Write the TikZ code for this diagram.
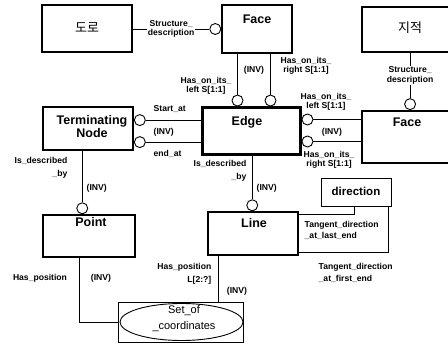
\documentclass[tikz,border=0pt]{standalone}
\usepackage{fontspec}
\setmainfont{Liberation Sans}
\newfontfamily\krfont{Noto Sans CJK KR}
\usetikzlibrary{calc,shapes.geometric}
\begin{document}
\begin{tikzpicture}[x=1pt,y=-1pt,
  box/.style={draw, line width=1.5pt, inner sep=0pt},
  ttl/.style={font=\bfseries\fontsize{12.5}{13}\selectfont, align=center, inner sep=0pt},
  krttl/.style={font=\krfont\fontsize{13}{14}\selectfont, inner sep=0pt},
  lab/.style={font=\bfseries\fontsize{8.6}{9.5}\selectfont, inner sep=0.5pt},
  circ/.style={circle, draw, fill=white, line width=0.9pt, minimum size=11pt, inner sep=0pt},
  conn/.style={line width=0.8pt},
]
\useasboundingbox (0,0) rectangle (448,345);
\clip (0,0) rectangle (448,345);
\fill[white] (0,0) rectangle (448,345);

% boxes
\node[box, line width=1.8pt, minimum width=90pt, minimum height=47pt] (doro) at (87,28.5) {};
\node[krttl] (doroT) at (87,28) {도로};
\node[box, minimum width=70pt, minimum height=48pt] (faceT) at (257,29) {};
\node[ttl] (faceTt) at (257,19) {Face};
\node[box, line width=1.8pt, minimum width=110pt, minimum height=45pt] (jij) at (417,29.5) {};
\node[krttl] (jijT) at (410,28) {지적};
\node[box, line width=1.8pt, minimum width=110pt, minimum height=52pt] (faceR) at (417,137) {};
\node[ttl] (faceRt) at (407,122) {Face};
\node[box, line width=3pt, minimum width=98pt, minimum height=47pt] (edge) at (251,131.5) {};
\node[ttl] (edgeT) at (247,122) {Edge};
\node[box, line width=1.8pt, minimum width=90pt, minimum height=43pt] (term) at (88,128.5) {};
\node[ttl] (termT) at (92,127) {Terminating\\Node};
\node[box, minimum width=92pt, minimum height=42pt] (point) at (89,236) {};
\node[ttl] (pointT) at (91,222) {Point};
\node[box, minimum width=90pt, minimum height=43pt] (line) at (253,233.5) {};
\node[ttl] (lineT) at (254,223) {Line};
\node[box, line width=0.9pt, minimum width=70pt, minimum height=28pt] (dir) at (356,192) {};
\node[ttl, font=\bfseries\fontsize{11.5}{13}\selectfont] (dirT) at (356,191) {direction};
\node[draw, line width=0.9pt, minimum width=125pt, minimum height=40pt, inner sep=0pt] (set) at (180.5,322) {};
\node[ellipse, draw, line width=0.9pt, minimum width=123pt, minimum height=37pt, inner sep=0pt] (setE) at (181.5,322) {};
\node[font=\fontsize{11}{16}\selectfont, align=center, inner sep=0pt] (setT) at (184,319) {Set\_of\\\_coordinates};

% Doro -> Face (top)
\node[circ, anchor=east] (cD) at (faceT.west) {};
\draw[conn] (doro.east |- cD.west) -- node[lab, fill=white, align=center] (lSD1) {Structure\_\\description} (cD.west);

% Face (top) -> Edge
\node[circ, anchor=south] (cEL) at ($(edge.north west)+(37,0)$) {};
\node[circ, anchor=south] (cER) at ($(edge.north west)+(70,0)$) {};
\draw[conn] (cEL.north) -- (cEL.north |- faceT.south);
\draw[conn] (cER.north) -- (cER.north |- faceT.south);
\node[lab, align=center] (lHL1) at (206,86) {Has\_on\_its\_\\left S[1:1]};
\node[lab] (lINV1) at (254,70) {(INV)};
\node[lab, align=center] (lHR1) at (306,66) {Has\_on\_its\_\\right S[1:1]};

% Jijeok -> Face (right)
\node[circ, anchor=south] (cJ) at ($(faceR.north west)+(49,0)$) {};
\draw[conn] (jij.south -| cJ.north) -- node[lab, fill=white, align=center] (lSD2) {Structure\_\\description} (cJ.north);

% Edge -> Face (right)
\node[circ, anchor=west] (cRL) at ($(edge.north east)+(0,13)$) {};
\node[circ, anchor=west] (cRR) at ($(edge.north east)+(0,35)$) {};
\draw[conn] (cRL.east) -- (cRL.east -| faceR.west);
\draw[conn] (cRR.east) -- (cRR.east -| faceR.west);
\node[lab, align=center] (lHL2) at (326,102) {Has\_on\_its\_\\left S[1:1]};
\node[lab] (lINV2) at (332,132) {(INV)};
\node[lab, align=center] (lHR2) at (329,160) {Has\_on\_its\_\\right S[1:1]};

% Terminating Node -> Edge
\node[circ, anchor=west] (cTS) at ($(term.north east)+(0,14)$) {};
\node[circ, anchor=west] (cTE) at ($(term.north east)+(0,36)$) {};
\draw[conn] (cTS.east) -- (cTS.east -| edge.west);
\draw[conn] (cTE.east) -- (cTE.east -| edge.west);
\node[lab, anchor=west] (lSA) at (153,109) {Start\_at};
\node[lab, anchor=west] (lINV3) at (153,132) {(INV)};
\node[lab, anchor=west] (lEA) at (153,154) {end\_at};

% Terminating Node -> Point
\node[circ, anchor=south] (cP) at ($(point.north west)+(40,0)$) {};
\draw[conn] (cP.north) -- (cP.north |- term.south);
\node[lab, anchor=east, align=right, font=\bfseries\fontsize{8.6}{12.5}\selectfont] (lID1) at (68,168) {Is\_described\\\_by};
\node[lab, anchor=west] (lINV4) at (86,188) {(INV)};

% Edge -> Line
\node[circ, anchor=south] (cL) at ($(line.north west)+(45,0)$) {};
\draw[conn] (cL.north) -- (cL.north |- edge.south);
\node[lab, anchor=east, align=right, font=\bfseries\fontsize{8.6}{13.5}\selectfont] (lID2) at (247,171) {Is\_described\\\_by};
\node[lab, anchor=west] (lINV5) at (256,188) {(INV)};

% Point -> Set_of_coordinates
\coordinate (psA) at ($(point.south west)+(37,0)$);
\draw[conn] (psA) |- (set.west);
\node[lab] (lHP1) at (40,278) {Has\_position};
\node[lab] (lINV6) at (101,278) {(INV)};

% Line -> Set_of_coordinates
\coordinate (lsB) at ($(line.south west)+(11,0)$);
\draw[conn] (lsB) -- (lsB |- set.north);
\node[lab, anchor=east, align=right, font=\bfseries\fontsize{8.6}{13.5}\selectfont] (lHP2) at (212,274) {Has\_position\\L[2:?]};
\node[lab] (lINV7) at (237,291) {(INV)};

% Line -> direction
\coordinate (lA) at ($(line.north east)+(0,3.5)$);
\coordinate (dA) at ($(dir.south west)+(34,0)$);
\draw[conn] (lA) -| (dA);
\coordinate (lB) at ($(line.south east)+(0,-3)$);
\coordinate (dB) at ($(dir.south east)+(-3,0)$);
\draw[conn] (lB) -| (dB);
\node[lab, anchor=west, align=left, font=\bfseries\fontsize{8.6}{11}\selectfont] (lTL) at (304,230) {Tangent\_direction\\\_at\_last\_end};
\node[lab, anchor=west, align=left, font=\bfseries\fontsize{8.6}{12.5}\selectfont] (lTF) at (318,273) {Tangent\_direction\\\_at\_first\_end};
\end{tikzpicture}
\end{document}
